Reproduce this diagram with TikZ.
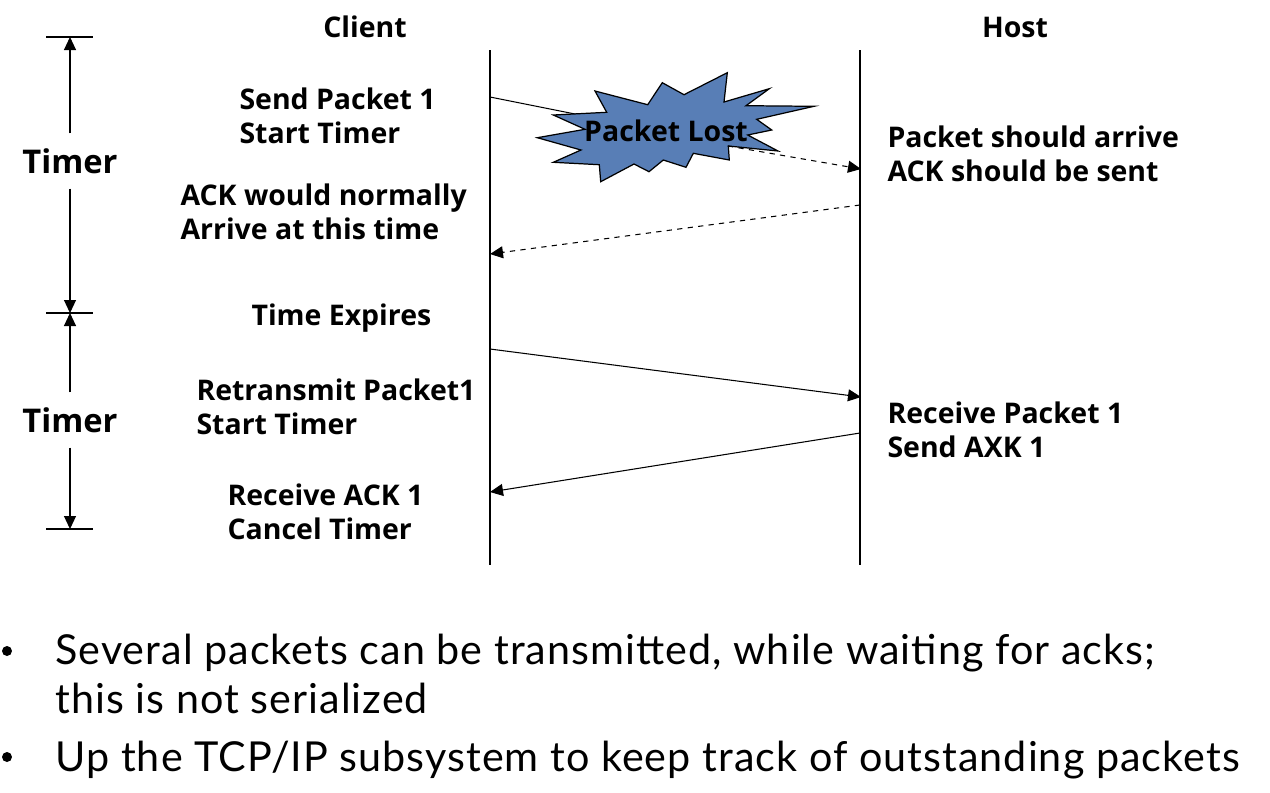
\documentclass[tikz,border=0pt]{standalone}
\usepackage{fontspec}
\usetikzlibrary{arrows.meta}
\setmainfont{Open Sans}
\newfontfamily\notefont[LetterSpace=2.5]{Lato}

\tikzset{
    label/.style={anchor=west, align=left, inner sep=0pt, font=\fontsize{16.2}{19.3}\selectfont\bfseries},
    head/.style={inner sep=0pt, font=\fontsize{16.2}{19.3}\selectfont\bfseries},
    timer/.style={inner sep=0pt, minimum height=1.08cm, font=\fontsize{18.6}{22}\selectfont\bfseries},
    note/.style={anchor=west, align=left, inner sep=0pt, font=\fontsize{23.5}{27}\selectfont\notefont},
    notedot/.style={circle, fill=black, inner sep=0pt, minimum size=0.2cm},
    burst/.style={draw=black, fill=burstblue, line width=0.7pt, line join=miter},
}
\definecolor{burstblue}{RGB}{88,126,182}

\begin{document}
\begin{tikzpicture}[x=0.02cm,y=-0.02cm,>={Stealth[length=0.26cm,width=0.24cm,inset=0pt]},line width=0.6pt]
        \useasboundingbox (0,0) rectangle (1270,792);

        % time lines
        \coordinate (clienttop) at (490,50);
        \coordinate (clientbot) at (490,565);
        \coordinate (hosttop) at (860,50);
        \coordinate (hostbot) at (860,565);
        \draw (clienttop) -- (clientbot);
        \draw (hosttop) -- (hostbot);

        \node (client) [head] at (365,27) {Client};
        \node (host) [head] at (1015,27) {Host};

        % timer brackets
        \coordinate (tick1l) at (46,37);
        \coordinate (tick1r) at (93,37);
        \coordinate (tick1) at (70,37);
        \coordinate (tick2l) at (46,313);
        \coordinate (tick2r) at (93,313);
        \coordinate (tick2) at (70,313);
        \coordinate (tick3l) at (46,529);
        \coordinate (tick3r) at (93,529);
        \coordinate (tick3) at (70,529);
        \draw (tick1l) -- (tick1r);
        \draw (tick2l) -- (tick2r);
        \draw (tick3l) -- (tick3r);

        \node (timer1) [timer] at (70,161) {Timer};
        \node (timer2) [timer] at (70,420) {Timer};
        \draw[->] (timer1) -- (tick1);
        \draw[->] (timer1) -- (tick2);
        \draw[->] (timer2) -- (tick2);
        \draw[->] (timer2) -- (tick3);

        % client side labels
        \node (send) [label] at (239,116) {Send Packet 1\\Start Timer};
        \node (normal) [label] at (180,212) {ACK would normally\\Arrive at this time};
        \node (expire) [label] at (251,318) {Time Expires};
        \node (resend) [label] at (196,407) {Retransmit Packet1\\Start Timer};
        \node (recvack) [label] at (227,512) {Receive ACK 1\\Cancel Timer};

        % host side labels
        \node (should) [label] at (887,154) {Packet should arrive\\ACK should be sent};
        \node (recv) [label] at (887,430) {Receive Packet 1\\Send AXK 1};

        % messages
        \coordinate (pkt1a) at (490,97);
        \coordinate (pkt1b) at (580,115);
        \coordinate (pkt1c) at (728,146);
        \coordinate (pkt1d) at (861,169);
        \coordinate (ack1a) at (860,205);
        \coordinate (ack1b) at (490,254);
        \coordinate (pkt2a) at (490,349);
        \coordinate (pkt2b) at (861,397);
        \coordinate (ack2a) at (860,433);
        \coordinate (ack2b) at (490,492);

        \draw (pkt1a) -- (pkt1b);
        \draw[burst] (595,91) -- (647.7,104.7) -- (662.3,82.7) -- (684,94.7) -- (727.3,72.7)
            -- (724,102) -- (769.3,88.7) -- (746,105.7) -- (814,106.3) -- (756.7,119.3)
            -- (771.7,130) -- (747.7,135) -- (778,151) -- (728.3,146) -- (729.3,160)
            -- (693.3,153.3) -- (686,167.3) -- (663.3,160) -- (649,171.7) -- (634,164)
            -- (600.7,181.7) -- (599.3,164.7) -- (553.3,162.3) -- (581,150) -- (537.3,137.7)
            -- (585,129.3) -- (553.3,115) -- (606.7,112.3) -- cycle;
        \node (lost) [head] at (666,131) {Packet Lost};
        \draw[->,dashed] (pkt1c) -- (pkt1d);
        \draw[->,dashed] (ack1a) -- (ack1b);
        \draw[->] (pkt2a) -- (pkt2b);
        \draw[->] (ack2a) -- (ack2b);

        % notes below
        \node (dot1) [notedot] at (7,651) {};
        \node (note1) [note] at (55,653) {Several packets can be transmitted, while waiting for acks;};
        \node (note1b) [note] at (55,698) {this is not serialized};
        \node (dot2) [notedot] at (7,757) {};
        \node (note2) [note] at (55,760) {Up the TCP/IP subsystem to keep track of outstanding packets};
    \end{tikzpicture}
\end{document}
